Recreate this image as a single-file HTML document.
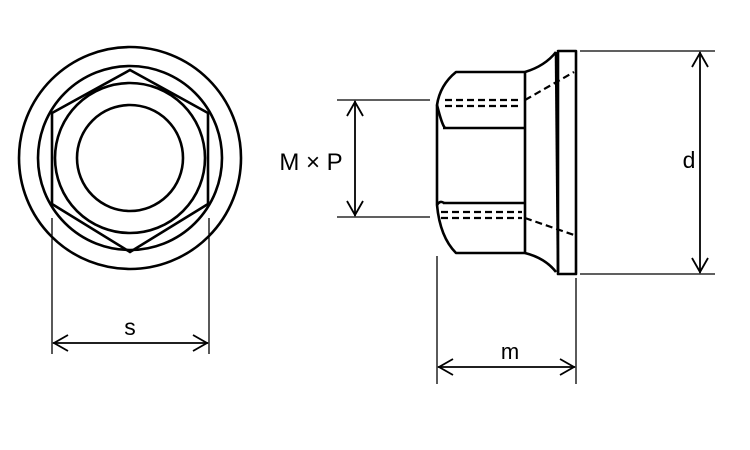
<!DOCTYPE html>
<html><head><meta charset="utf-8"><style>
html,body{margin:0;padding:0;background:#fff;width:750px;height:450px;overflow:hidden}
text{font-family:"Liberation Sans",sans-serif;fill:#000}
</style></head><body>
<svg width="750" height="450" viewBox="0 0 750 450" xmlns="http://www.w3.org/2000/svg">
<g fill="none" stroke="#000" stroke-width="2.6">
<circle cx="130" cy="158" r="111"/>
<circle cx="130" cy="158" r="92"/>
<circle cx="130" cy="158" r="75"/>
<circle cx="130" cy="158" r="53"/>
<polygon points="130,70 208,113 208,204 130,252 52,204 52,113"/>
</g>
<g stroke="#000" stroke-width="1.3" fill="none">
<line x1="52" y1="218" x2="52" y2="354"/>
<line x1="209" y1="218" x2="209" y2="354"/>
</g>
<g stroke="#000" stroke-width="1.8" fill="none">
<line x1="53" y1="343" x2="208" y2="343"/>
<polyline points="68,335 54,343 68,351"/>
<polyline points="193,335 207,343 193,351"/>
</g>
<text x="130" y="335" font-size="23" text-anchor="middle">s</text>

<g fill="none" stroke="#000" stroke-width="2.6" stroke-linejoin="round">
<rect x="558" y="51" width="18" height="223"/>
<path d="M525,72 L456,72 Q440,85 437,105 L437,205 Q440,237 456,253 L525,253 Z"/>
<line x1="443" y1="128" x2="525" y2="128"/>
<line x1="443" y1="203" x2="525" y2="203"/>
<path d="M437,105 Q442,125 445,128"/>
<path d="M437,205 Q440,200 444,203"/>
<path d="M525,72 Q545,66 556,52"/>
<path d="M525,253 Q545,258 556,272"/>
<line x1="556" y1="52" x2="558" y2="272"/>
</g>
<g stroke="#000" stroke-width="2.2" stroke-dasharray="7,4" fill="none">
<line x1="445" y1="100" x2="522" y2="100"/>
<line x1="445" y1="106" x2="522" y2="106"/>
<line x1="441" y1="212" x2="522" y2="212"/>
<line x1="441" y1="218" x2="522" y2="218"/>
<line x1="525" y1="100" x2="574" y2="72"/>
<line x1="525" y1="218" x2="574" y2="235"/>
</g>
<g stroke="#000" stroke-width="1.3" fill="none">
<line x1="337" y1="100" x2="430" y2="100"/>
<line x1="337" y1="217" x2="430" y2="217"/>
<line x1="580" y1="51" x2="715" y2="51"/>
<line x1="580" y1="274" x2="715" y2="274"/>
<line x1="437" y1="256" x2="437" y2="384"/>
<line x1="576" y1="278" x2="576" y2="384"/>
</g>
<g stroke="#000" stroke-width="1.8" fill="none">
<line x1="355" y1="101" x2="355" y2="216"/>
<polyline points="347,116 355,102 363,116"/>
<polyline points="347,201 355,215 363,201"/>
<line x1="700" y1="52" x2="700" y2="273"/>
<polyline points="692,67 700,53 708,67"/>
<polyline points="692,258 700,272 708,258"/>
<line x1="438" y1="367" x2="575" y2="367"/>
<polyline points="453,359 439,367 453,375"/>
<polyline points="560,359 574,367 560,375"/>
</g>
<text x="311" y="170" font-size="24" text-anchor="middle">M × P</text>
<text x="689" y="168" font-size="23" text-anchor="middle">d</text>
<text x="510" y="359" font-size="22" text-anchor="middle">m</text>
</svg>
</body></html>
